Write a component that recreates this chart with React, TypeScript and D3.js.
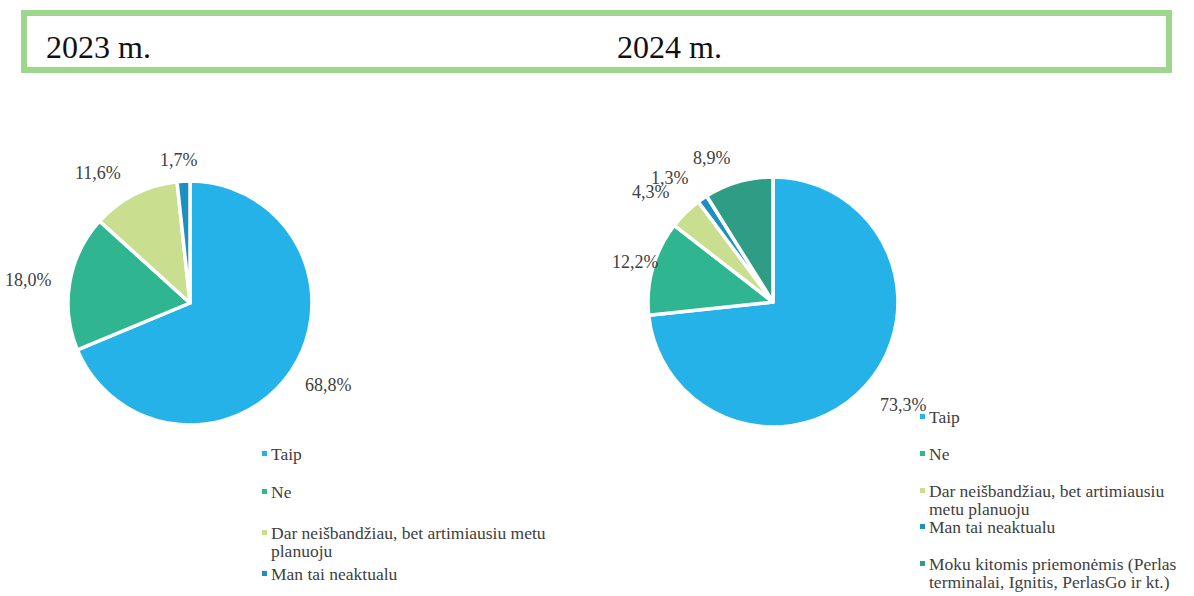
import React from "react";
import * as d3 from "d3";

const categories2023 = ["Taip", "Ne", "Dar neišbandžiau, bet artimiausiu metu planuoju", "Man tai neaktualu"];
const values2023 = [68.8, 18.0, 11.6, 1.7];
const labels2023 = ["68,8%", "18,0%", "11,6%", "1,7%"];

const categories2024 = ["Taip", "Ne", "Dar neišbandžiau, bet artimiausiu metu planuoju", "Man tai neaktualu", "Moku kitomis priemonėmis (Perlas terminalai, Ignitis, PerlasGo ir kt.)"];
const values2024 = [73.3, 12.2, 4.3, 1.3, 8.9];
const labels2024 = ["73,3%", "12,2%", "4,3%", "1,3%", "8,9%"];

const legendLines2023 = [["Taip"], ["Ne"], ["Dar neišbandžiau, bet artimiausiu metu", "planuoju"], ["Man tai neaktualu"]];
const legendLines2024 = [["Taip"], ["Ne"], ["Dar neišbandžiau, bet artimiausiu", "metu planuoju"], ["Man tai neaktualu"], ["Moku kitomis priemonėmis (Perlas", "terminalai, Ignitis, PerlasGo ir kt.)"]];

const colors = ["#24b2e8", "#2fb590", "#c9de8e", "#1d8fc2", "#2f9c86"];

const FONT = "Liberation Serif";

type PieProps = {
  cx: number; cy: number; r: number;
  values: number[]; labels: string[];
  labelPos: [number, number][];
};

function Pie({ cx, cy, r, values, labels, labelPos }: PieProps) {
  const pie = d3.pie<number>().sort(null).value((d) => d);
  const arcs = pie(values);
  const arc = d3.arc<d3.PieArcDatum<number>>().innerRadius(0).outerRadius(r);
  return (
    <g>
      <g transform={`translate(${cx},${cy})`}>
        {arcs.map((a, i) => (
          <path key={i} d={arc(a) || ""} fill={colors[i]} stroke="#fff" strokeWidth={3.5} strokeLinejoin="round" />
        ))}
      </g>
      {labels.map((l, i) => (
        <text key={i} x={labelPos[i][0]} y={labelPos[i][1]} style={{ fontFamily: FONT }} fontSize={18} fill="#404040">{l}</text>
      ))}
    </g>
  );
}

function Legend({ x, ys, lines }: { x: number; ys: number[]; lines: string[][] }) {
  return (
    <g>
      {lines.map((ls, i) => (
        <g key={i}>
          <rect x={x} y={ys[i] - 9} width={5} height={5} fill={colors[i]} />
          {ls.map((t, j) => (
            <text key={j} x={x + 9} y={ys[i] + j * 18} style={{ fontFamily: FONT }} fontSize={17.5} fill="#404040">{t}</text>
          ))}
        </g>
      ))}
    </g>
  );
}

export default function App() {
  return (
    <svg width={1194} height={596} style={{ position: "absolute", left: 0, top: 0, background: "#fff" }}>
      <rect x={24} y={13} width={1145} height={57} fill="none" stroke="#9dd68c" strokeWidth={6} />
      <text x={46} y={58} style={{ fontFamily: FONT }} fontSize={32} fill="#111">2023 m.</text>
      <text x={617} y={58} style={{ fontFamily: FONT }} fontSize={32} fill="#111">2024 m.</text>

      <Pie cx={190} cy={303} r={122} values={values2023} labels={labels2023}
        labelPos={[[305, 391], [5, 286], [75, 179], [160, 166]]} />
      <Pie cx={773} cy={302} r={125} values={values2024} labels={labels2024}
        labelPos={[[880, 411], [612, 268], [632, 198], [651, 184], [693, 164]]} />

      <Legend x={262} ys={[460, 498, 539, 580]} lines={legendLines2023} />
      <Legend x={920} ys={[423, 460, 497, 533, 570]} lines={legendLines2024} />
    </svg>
  );
}
